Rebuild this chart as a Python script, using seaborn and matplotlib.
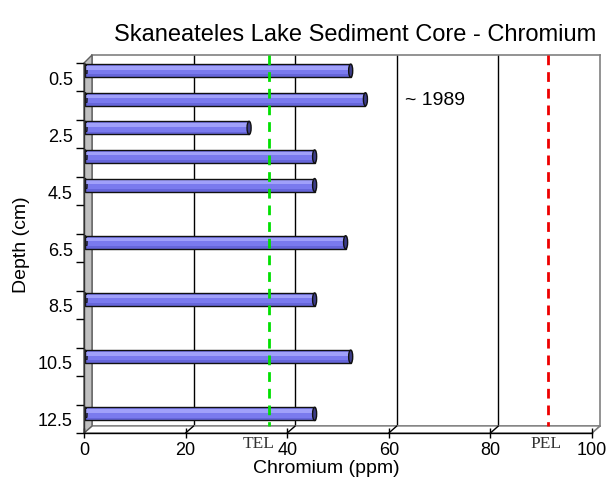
import numpy as np
import pandas as pd
import matplotlib
matplotlib.use("Agg")
import matplotlib.pyplot as plt
from matplotlib.patches import Polygon, Rectangle, Ellipse
from matplotlib.lines import Line2D
import seaborn as sns

# ---------------- data ----------------
depth_cm = [0.5, 1.5, 2.5, 3.5, 4.5, 6.5, 8.5, 10.5, 12.5]
chromium_ppm = [52.3, 55.2, 32.3, 45.2, 45.2, 51.3, 45.2, 52.3, 45.2]
depth_tick_labels = ["0.5", "2.5", "4.5", "6.5", "8.5", "10.5", "12.5"]
x_ticks = [0, 20, 40, 60, 80, 100]
tel_value = 34.8
pel_value = 89.8
title = "Skaneateles Lake Sediment Core - Chromium"
xlabel = "Chromium (ppm)"
ylabel = "Depth (cm)"
note_text = "~ 1989"

sns.set_theme(style="white")
plt.rcParams["font.family"] = ["Liberation Sans", "DejaVu Sans"]
plt.rcParams["text.color"] = "black"
plt.rcParams["xtick.color"] = "black"
plt.rcParams["ytick.color"] = "black"
plt.rcParams["xtick.labelcolor"] = "black"
plt.rcParams["ytick.labelcolor"] = "black"

W, H = 610, 502
fig = plt.figure(figsize=(W / 100, H / 100), dpi=100)


def rect(x0, y0, x1, y1):
    """pixel box (top-left origin) -> figure fraction rect"""
    return [x0 / W, 1 - y1 / H, (x1 - x0) / W, (y1 - y0) / H]


front_box = (84, 64, 592, 434)
back_box = (92, 56, 600, 427)
bar_box = (85, 57.4, 593, 429.2)

ax_back = fig.add_axes(rect(*back_box), zorder=0)
ax_bar = fig.add_axes(rect(*bar_box), zorder=1)
ax_front = fig.add_axes(rect(*front_box), zorder=2)

for a in (ax_back, ax_bar, ax_front):
    a.set_xlim(0, 100)
    a.set_ylim(13, 0)

# ---------------- back wall ----------------
ax_back.set_facecolor("white")
for s in ax_back.spines.values():
    s.set_color("#808080")
    s.set_linewidth(1.2)
ax_back.set_xticks([])
ax_back.set_yticks([])
for v in x_ticks[1:-1]:
    ax_back.axvline(v, color="black", lw=1, zorder=1)

def fp(x, y):
    return (x / W, 1 - y / H)

fl, ft, fr, fb = front_box
bl, bt, br, bb = back_box
left_wall = Polygon([fp(fl, ft), fp(bl, bt), fp(bl, bb), fp(fl, fb)],
                    closed=True, transform=fig.transFigure, facecolor="#c0c0c0",
                    edgecolor="#606060", lw=1, clip_on=False, zorder=5)
ax_back.add_patch(left_wall)
floor = Polygon([fp(fl, fb), fp(bl, bb), fp(br, bb), fp(fr, fb)],
                closed=True, transform=fig.transFigure, facecolor="white",
                edgecolor="#808080", lw=1, clip_on=False, zorder=4)
ax_back.add_patch(floor)
for v in x_ticks[1:]:
    xf = fl + (fr - fl) * v / 100
    xb = bl + (br - bl) * v / 100
    col = "black" if v < 100 else "#808080"
    ax_back.add_line(Line2D([xf / W, xb / W], [1 - fb / H, 1 - bb / H],
                            transform=fig.transFigure, color=col, lw=1,
                            clip_on=False, zorder=6))

# ---------------- bars ----------------
df = pd.DataFrame({"depth": depth_cm, "chromium": chromium_ppm})
sns.barplot(data=df, x="chromium", y="depth", orient="h", native_scale=True,
            ax=ax_bar, color="#7a7aee", saturation=1, width=0.46,
            edgecolor="none", linewidth=0, errorbar=None)
ax_bar.set_xlim(0, 100)
ax_bar.set_ylim(13, 0)
ax_bar.set_axis_off()
ax_bar.patch.set_alpha(0)

cap_w = 0.8
for p in list(ax_bar.patches):
    x0, y0, w, h = p.get_x(), p.get_y(), p.get_width(), p.get_height()
    ax_bar.add_patch(Rectangle((x0, y0 + 0.14 * h), w, 0.28 * h, facecolor="#a0a0fa",
                               edgecolor="none", zorder=3))
    ax_bar.add_patch(Rectangle((x0, y0 + 0.78 * h), w, 0.22 * h, facecolor="#6666da",
                               edgecolor="none", zorder=3))
    ax_bar.add_patch(Rectangle((x0, y0), w, h, facecolor="none",
                               edgecolor="#111111", lw=1, zorder=4))
    ax_bar.add_patch(Ellipse((x0, y0 + h / 2), cap_w, h, facecolor="#7a7aee",
                             edgecolor="#111111", lw=1, zorder=2))
    ax_bar.add_patch(Ellipse((x0 + w, y0 + h / 2), cap_w, h, facecolor="#3c3c88",
                             edgecolor="#111111", lw=1, zorder=5))

for val, col in ((tel_value, "#00e000"), (pel_value, "#ee0000")):
    ax_bar.add_line(Line2D([val, val], [0, 13], transform=ax_back.transData,
                           color=col, lw=2, ls=(0, (3.5, 2.5)), zorder=8,
                           clip_on=False))

ax_bar.text(63, 1.5, note_text, fontsize=14, va="center", ha="left", color="black")

# ---------------- front axes ----------------
ax_front.patch.set_alpha(0)
for side in ("top", "right"):
    ax_front.spines[side].set_visible(False)
ax_front.spines["left"].set_color("#333333")
ax_front.spines["bottom"].set_color("black")
ax_front.spines["left"].set_linewidth(1)
ax_front.spines["bottom"].set_linewidth(1)
ax_front.set_xticks(x_ticks)
ax_front.set_xticklabels([str(v) for v in x_ticks])
label_pos = [float(s) for s in depth_tick_labels]
ax_front.set_yticks(label_pos)
ax_front.set_yticklabels(depth_tick_labels)
ax_front.set_yticks(np.arange(0, 14), minor=True)
ax_front.tick_params(axis="y", which="major", length=0, pad=8, labelsize=13,
                     labelcolor="black")
ax_front.tick_params(axis="y", which="minor", length=6, width=1, color="black",
                     direction="out", left=True)
ax_front.tick_params(axis="x", which="major", length=7, width=1, color="black",
                     direction="inout", pad=2, labelsize=13, bottom=True,
                     labelcolor="black")

serif = ["Liberation Serif", "DejaVu Serif"]
ax_front.text(37.6, 13.06, "TEL", ha="right", va="top", fontsize=12.5,
              family=serif, color="#333333")
ax_front.text(91.0, 13.06, "PEL", ha="center", va="top", fontsize=12.5,
              family=serif, color="#333333")

# ---------------- titles ----------------
fig.text(355 / W, 1 - 35 / H, title, ha="center", va="center", fontsize=17,
         color="black")
fig.text(326 / W, 1 - 469 / H, xlabel, ha="center", va="center", fontsize=14,
         color="black")
fig.text(22 / W, 1 - 245 / H, ylabel, ha="center", va="center", rotation=90,
         fontsize=14, color="black")

fig.savefig("out.png", dpi=100)
